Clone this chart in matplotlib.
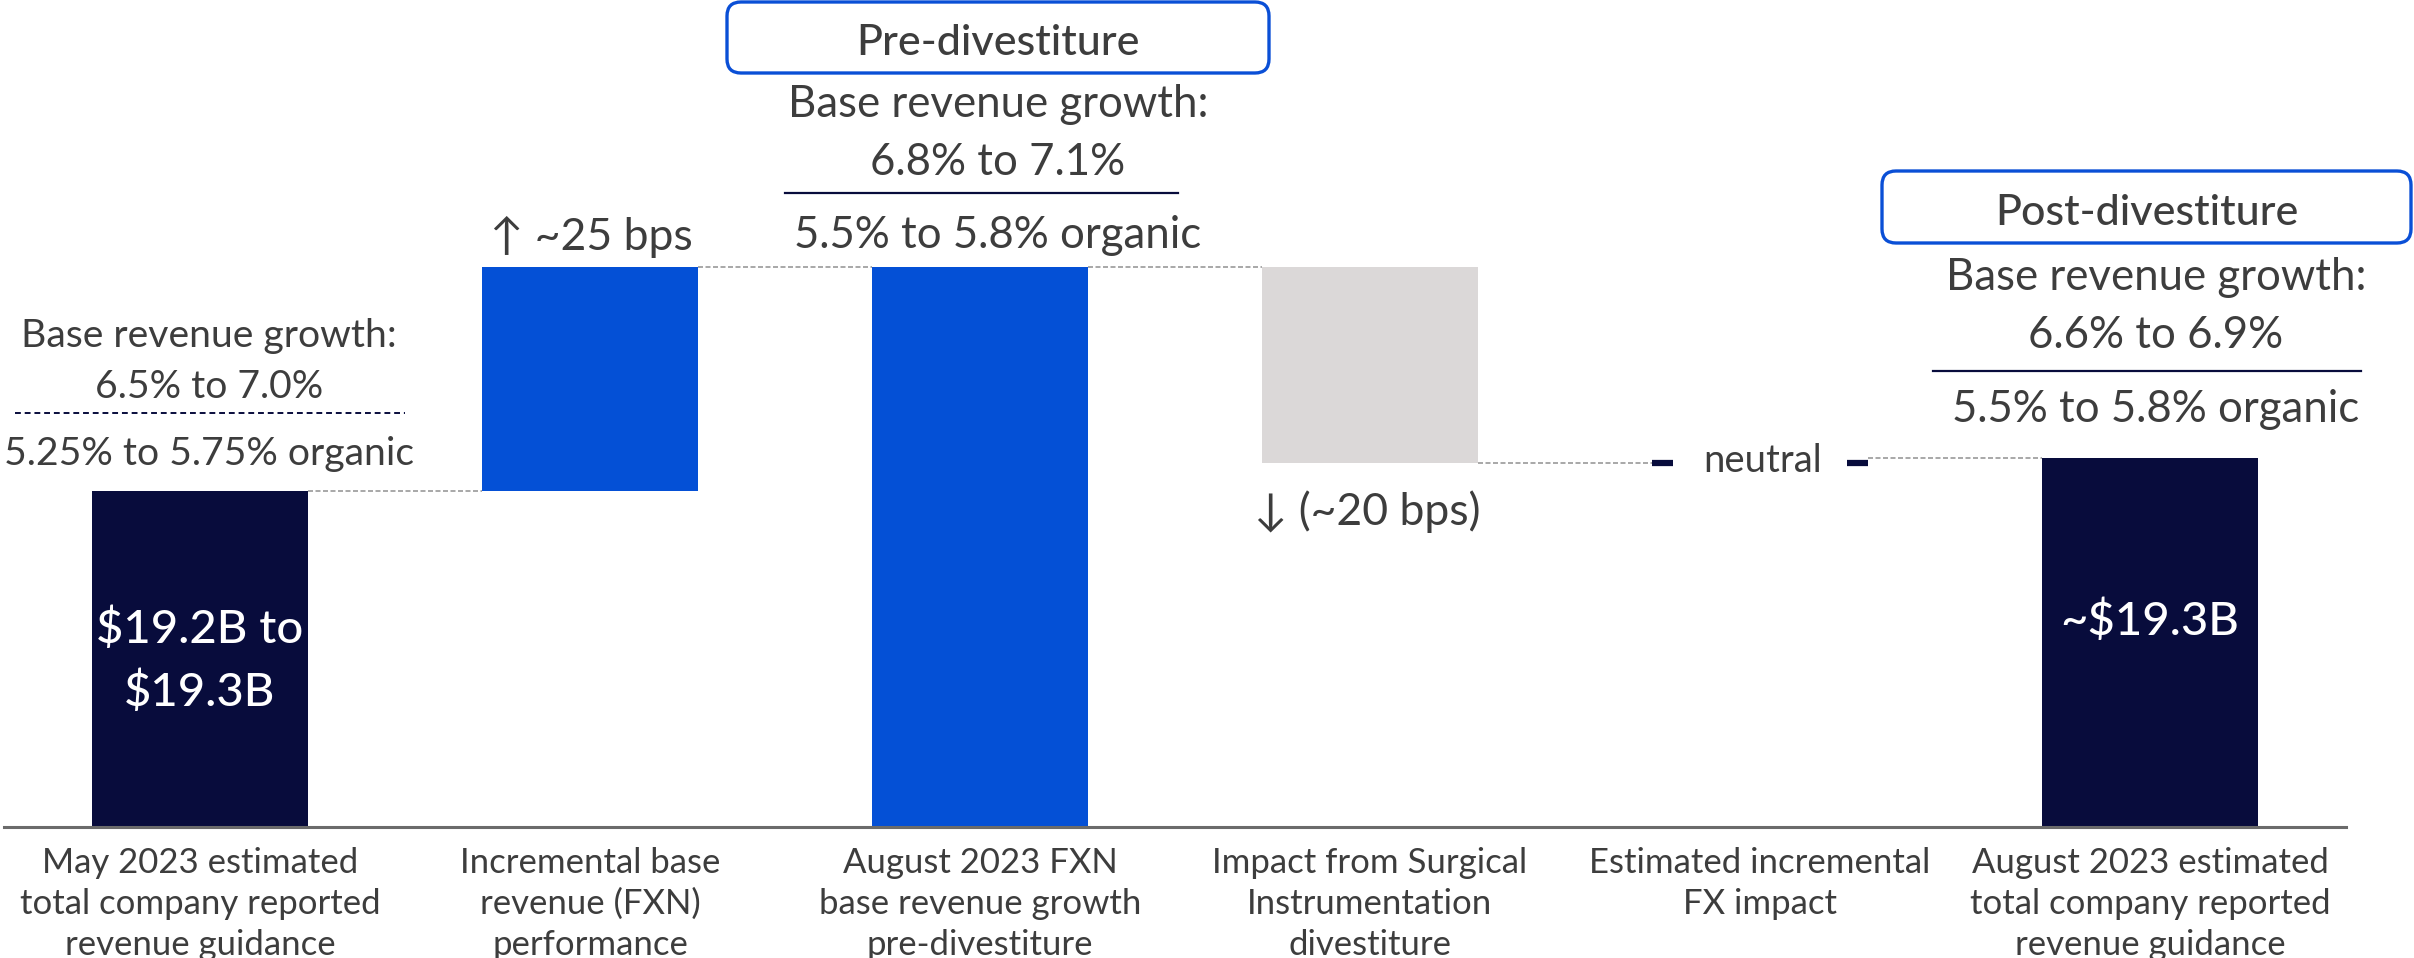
import matplotlib
matplotlib.use("Agg")
import matplotlib.pyplot as plt
from matplotlib.patches import FancyBboxPatch
from matplotlib.transforms import IdentityTransform

plt.rcParams["font.family"] = ["Lato", "DejaVu Sans"]

# ---- data -------------------------------------------------------------
categories = [
    ["May 2023 estimated", "total company reported", "revenue guidance"],
    ["Incremental base", "revenue (FXN)", "performance"],
    ["August 2023 FXN", "base revenue growth", "pre-divestiture"],
    ["Impact from Surgical", "Instrumentation", "divestiture"],
    ["Estimated incremental", "FX impact"],
    ["August 2023 estimated", "total company reported", "revenue guidance"],
]
kinds = ["total", "delta", "subtotal", "delta", "delta", "total"]
start_total = 3.36          # chart units (bar height of May guidance)
deltas = [2.24, -1.96, 0.0]  # FXN performance, divestiture, FX
final_total = 3.69
bar_colors = ["#080c3c", "#0450d6", "#0450d6", "#dbd8d8", "#080c3c", "#080c3c"]
value_labels = [["$19.2B to", "$19.3B"], None, None, None, None, ["~$19.3B"]]
step_labels = {1: "\u2191 ~25 bps", 3: "\u2193 (~20 bps)", 4: "neutral"}

W, H = 2414, 958
TEXT = "#3d3d3d"
NAVY = "#080c3c"
BLUE = "#0a4fd6"

fig = plt.figure(figsize=(W / 100, H / 100), dpi=100)
ax = fig.add_axes([0, 0, 1, 1])
ax.set_xlim(-200 / 390, (W - 200) / 390)
ax.set_ylim(-(H - 827) / 100, 827 / 100)
ax.axis("off")

bw = 0.556

# ---- waterfall bars ----------------------------------------------------
levels = []  # (bottom, top) of each bar
running = start_total
d_iter = iter(deltas)
for i, kind in enumerate(kinds):
    if kind == "total" and i == 0:
        levels.append((0.0, start_total))
    elif kind == "subtotal":
        levels.append((0.0, running))
    elif kind == "total":
        levels.append((0.0, final_total))
    else:
        d = next(d_iter)
        levels.append((running, running + d))
        running += d
    if i == 0:
        running = start_total

for i, (b, t) in enumerate(levels):
    if abs(t - b) < 1e-9:
        # neutral step: two short ticks at the bar edges
        for s in (-1, 1):
            ax.plot([i + s * 0.222, i + s * bw / 2], [t, t], color=NAVY,
                    lw=4.5, solid_capstyle="butt", zorder=3)
    else:
        ax.bar(i, t - b, bottom=b, width=bw, color=bar_colors[i], zorder=2)

# connectors between bars
ends = [lv[1] for lv in levels]
conn_levels = [ends[0], ends[1], ends[2], ends[3], ends[5]]
for i, y in enumerate(conn_levels):
    ax.plot([i + bw / 2, i + 1 - bw / 2], [y, y], color="#9a9a9a", lw=1.2,
            ls=(0, (3, 1.5)), zorder=1)

# baseline
ax.plot([-0.503, 5.503], [0, 0], color="#6b6b6b", lw=2.2, zorder=3)

# values inside total bars
for i, lines in enumerate(value_labels):
    if not lines:
        continue
    if len(lines) == 2:
        ys = [1.84, 1.21]
    else:
        ys = [1.92]
    for s, y in zip(lines, ys):
        ax.text(i, y, s, ha="center", va="baseline", color="white",
                fontsize=34, fontweight="medium", zorder=4)


# ---- annotations (figure pixel layout) ---------------------------------
def put(x, y, s, size, color=TEXT, weight="normal"):
    fig.text(x / W, 1 - y / H, s, ha="center", va="baseline", fontsize=size,
             color=color, fontweight=weight)


def hline(x0, x1, y, color=NAVY, lw=1.6, ls="-"):
    fig.add_artist(plt.Line2D([x0 / W, x1 / W], [1 - y / H, 1 - y / H],
                              transform=fig.transFigure, color=color, lw=lw, ls=ls))


# category labels
for i, lines in enumerate(categories):
    cx = 200 + 390 * i
    for k, s in enumerate(lines):
        put(cx, 873 + 41 * k, s, 25)

# step labels
put(591, 250, step_labels[1], 32)
put(1367, 525, step_labels[3], 32)
put(1763, 472, step_labels[4], 27.5)

# May guidance growth note
put(209, 347, "Base revenue growth:", 28.2)
put(209, 398, "6.5% to 7.0%", 28.2)
hline(15, 405, 413, lw=1.4, ls=(0, (3, 2)))
put(209, 465, "5.25% to 5.75% organic", 28.2)

# pre-divestiture note
put(998, 117, "Base revenue growth:", 31.5)
put(998, 175, "6.8% to 7.1%", 31.5)
hline(785, 1178, 193)
put(998, 248, "5.5% to 5.8% organic", 31.5)

# post-divestiture note
put(2156, 290, "Base revenue growth:", 31.5)
put(2156, 348, "6.6% to 6.9%", 31.5)
hline(1933, 2361, 371)
put(2156, 422, "5.5% to 5.8% organic", 31.5)


# headers in rounded boxes
def header(x0, x1, y0, y1, s, base):
    box = FancyBboxPatch((x0, H - y1), x1 - x0, y1 - y0,
                         boxstyle="round,pad=0,rounding_size=14",
                         transform=IdentityTransform(), facecolor="white",
                         edgecolor=BLUE, lw=2.4)
    fig.add_artist(box)
    put((x0 + x1) / 2, base, s, 31, weight="medium")


header(727, 1269, 2, 73, "Pre-divestiture", 55)
header(1882, 2411, 171, 243, "Post-divestiture", 225)

fig.savefig("out.png", dpi=100)
